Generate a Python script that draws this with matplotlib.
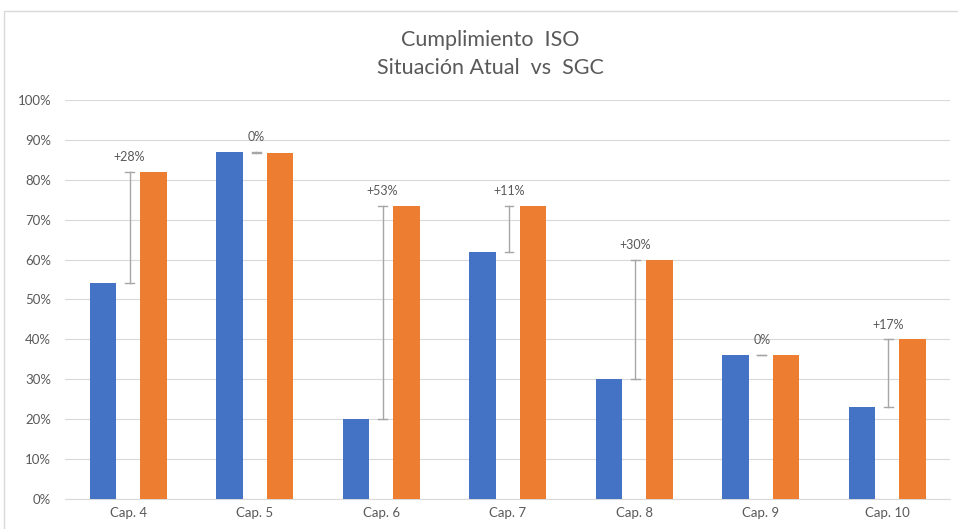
import numpy as np
import matplotlib.pyplot as plt
from matplotlib.patches import Rectangle

capitulos = ["Cap. 4", "Cap. 5", "Cap. 6", "Cap. 7", "Cap. 8", "Cap. 9", "Cap. 10"]
situacion_actual = [54, 87, 20, 62, 30, 36, 23]
sgc = [82, 86.7, 73.5, 73.5, 60, 36, 40]
etiquetas_dif = ["+28%", "0%", "+53%", "+11%", "+30%", "0%", "+17%"]

plt.rcParams['font.family'] = ['Lato', 'DejaVu Sans']
gris = '#595959'

fig = plt.figure(figsize=(9.58, 5.29), dpi=100)
ax = fig.add_axes([0.068, 0.057, 0.924, 0.754])

x = np.arange(len(capitulos))
w = 0.21
ax.bar(x - 0.2, situacion_actual, w, color='#4472c4', zorder=3)
ax.bar(x + 0.2, sgc, w, color='#ed7d31', zorder=3)

# linea de diferencia entre las dos barras
for i in range(len(capitulos)):
    lo = min(situacion_actual[i], sgc[i])
    hi = max(situacion_actual[i], sgc[i])
    ax.plot([x[i] + 0.01, x[i] + 0.01], [lo, hi], color='#a6a6a6', lw=1, zorder=2)
    for y in (lo, hi):
        ax.plot([x[i] - 0.025, x[i] + 0.045], [y, y], color='#a6a6a6', lw=1, zorder=2)
    ax.text(x[i] + 0.01, hi + 2.2, etiquetas_dif[i], ha='center', va='bottom',
            fontsize=9, color=gris)

ax.set_xlim(-0.5, len(capitulos) - 0.5)
ax.set_ylim(0, 100)
ax.set_yticks(np.arange(0, 101, 10))
ax.set_yticklabels([f"{v}%" for v in range(0, 101, 10)])
ax.set_xticks(x)
ax.set_xticklabels(capitulos)
ax.tick_params(axis='both', length=0, labelsize=9.5, labelcolor=gris)
ax.tick_params(axis='y', pad=10)
ax.tick_params(axis='x', pad=6)
ax.grid(axis='y', color='#d9d9d9', lw=0.8, zorder=0)
for s in ['top', 'right', 'left']:
    ax.spines[s].set_visible(False)
ax.spines['bottom'].set_color('#d9d9d9')

fig.text(0.512, 0.925, "Cumplimiento  ISO", ha='center', va='center', fontsize=15.5, color=gris)
fig.text(0.512, 0.872, "Situación Atual  vs  SGC", ha='center', va='center', fontsize=15.5, color=gris)

fig.patches.append(Rectangle((0.004, -0.01), 1.0, 0.99, transform=fig.transFigure,
                             fill=False, edgecolor='#d9d9d9', lw=1))

fig.savefig('out.png', dpi=100)
